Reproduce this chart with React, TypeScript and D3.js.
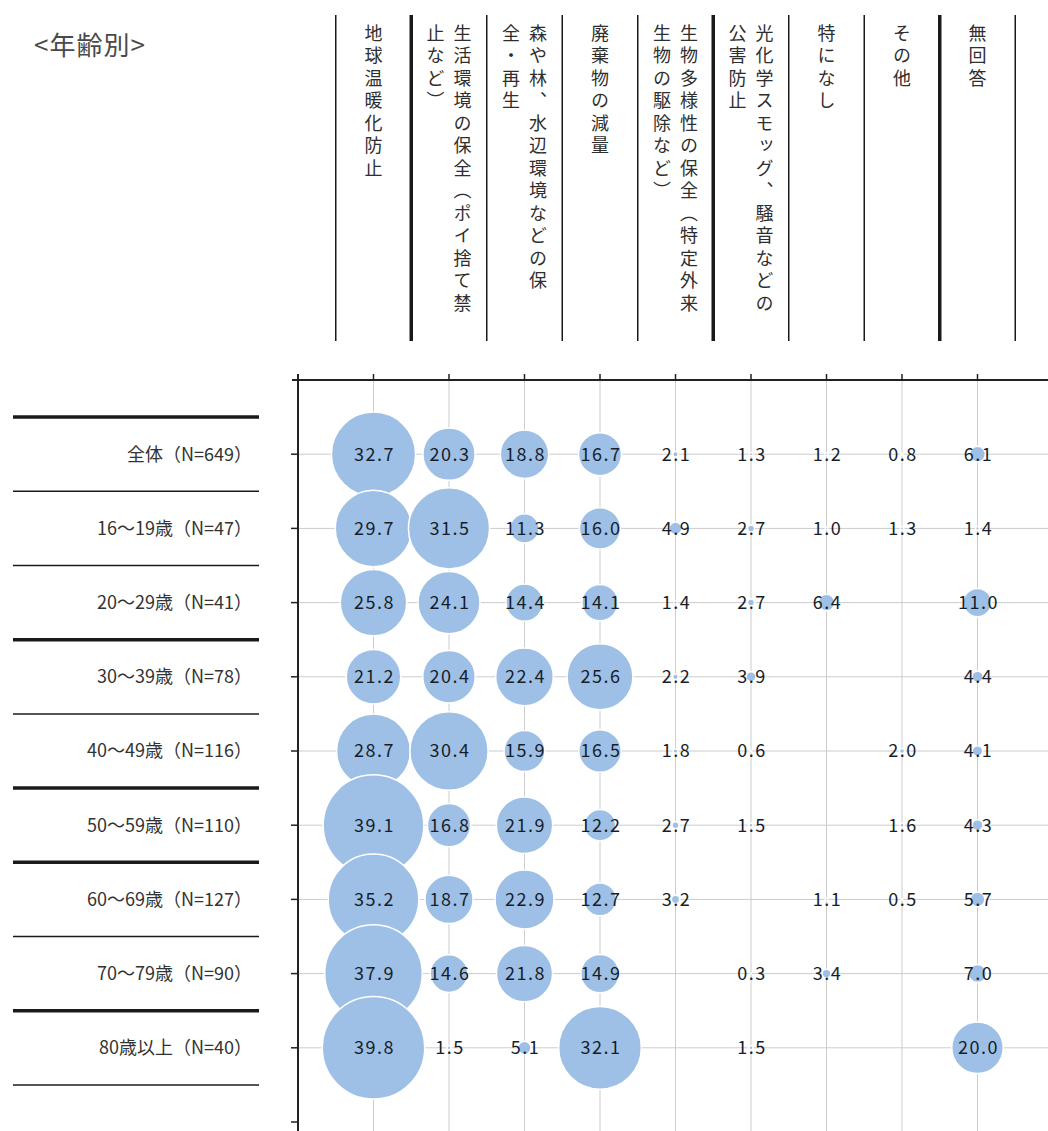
import * as d3 from "d3";
import { useEffect, useRef } from "react";

const WIDTH = 1048;
const HEIGHT = 1131;

// column headers, each split into the vertical lines of text (right-to-left order)
const columns = [
  ["地球温暖化防止"],
  ["生活環境の保全（ポイ捨て禁", "止など）"],
  ["森や林、水辺環境などの保", "全・再生"],
  ["廃棄物の減量"],
  ["生物多様性の保全（特定外来", "生物の駆除など）"],
  ["光化学スモッグ、騒音などの", "公害防止"],
  ["特になし"],
  ["その他"],
  ["無回答"],
];

const rows = [
  "全体（N=649）",
  "16～19歳（N=47）",
  "20～29歳（N=41）",
  "30～39歳（N=78）",
  "40～49歳（N=116）",
  "50～59歳（N=110）",
  "60～69歳（N=127）",
  "70～79歳（N=90）",
  "80歳以上（N=40）",
];

const values: (number | null)[][] = [
  [32.7, 20.3, 18.8, 16.7, 2.1, 1.3, 1.2, 0.8, 6.1],
  [29.7, 31.5, 11.3, 16.0, 4.9, 2.7, 1.0, 1.3, 1.4],
  [25.8, 24.1, 14.4, 14.1, 1.4, 2.7, 6.4, null, 11.0],
  [21.2, 20.4, 22.4, 25.6, 2.2, 3.9, null, null, 4.4],
  [28.7, 30.4, 15.9, 16.5, 1.8, 0.6, null, 2.0, 4.1],
  [39.1, 16.8, 21.9, 12.2, 2.7, 1.5, null, 1.6, 4.3],
  [35.2, 18.7, 22.9, 12.7, 3.2, null, 1.1, 0.5, 5.7],
  [37.9, 14.6, 21.8, 14.9, null, 0.3, 3.4, null, 7.0],
  [39.8, 1.5, 5.1, 32.1, null, 1.5, null, null, 20.0],
];

// which separator lines are drawn heavy
const headerThick = [false, true, false, false, false, true, false, false, true, false];
const rowThick = [true, false, false, true, false, true, true, false, true, false];

const FONT = "'Noto Sans CJK JP', 'Noto Sans', sans-serif";

export default function App() {
  const ref = useRef<SVGSVGElement>(null);

  useEffect(() => {
    const svg = d3.select(ref.current);
    svg.selectAll("*").remove();

    const x = d3
      .scalePoint<number>()
      .domain(d3.range(columns.length))
      .range([298, 1053])
      .padding(1);
    const y = d3
      .scalePoint<number>()
      .domain(d3.range(rows.length))
      .range([380, 1122])
      .padding(1);
    const r = d3.scaleLinear().domain([0, 40]).range([0, 51.5]);

    const stepX = x.step();
    const stepY = y.step();

    // title
    svg
      .append("text")
      .attr("x", 34)
      .attr("y", 55)
      .attr("font-size", 26)
      .attr("fill", "#4a4a4a")
      .attr("font-family", FONT)
      .style("letter-spacing", "1px")
      .text("<年齢別>");

    // header separators
    const hx = d3.range(columns.length + 1).map((i) =>
      i < columns.length ? x(i)! - stepX / 2 : x(columns.length - 1)! + stepX / 2
    );
    svg
      .append("g")
      .selectAll("line")
      .data(hx)
      .join("line")
      .attr("x1", (d) => d)
      .attr("x2", (d) => d)
      .attr("y1", 15)
      .attr("y2", 341)
      .attr("stroke", "#1a1a1a")
      .attr("stroke-width", (_, i) => (headerThick[i] ? 3.5 : 1.5));

    // header text, vertical
    const header = svg.append("g").attr("font-family", FONT).attr("font-size", 18).attr("fill", "#2e2e2e");
    columns.forEach((lines, ci) => {
      const cx = x(ci)!;
      const n = lines.length;
      lines.forEach((line, li) => {
        const lx = cx + ((n - 1) / 2 - li) * 27;
        header
          .append("text")
          .attr("x", lx)
          .attr("y", 24)
          .style("writing-mode", "vertical-rl")
          .style("letter-spacing", "4.5px")
          .text(line);
      });
    });

    // row separators on the left
    const ry = d3.range(rows.length + 1).map((i) =>
      i < rows.length ? y(i)! - stepY / 2 : y(rows.length - 1)! + stepY / 2
    );
    svg
      .append("g")
      .selectAll("line")
      .data(ry)
      .join("line")
      .attr("x1", 13)
      .attr("x2", 259)
      .attr("y1", (d) => d)
      .attr("y2", (d) => d)
      .attr("stroke", "#1a1a1a")
      .attr("stroke-width", (_, i) => (rowThick[i] ? 3.5 : 1.5));

    svg
      .append("g")
      .selectAll("text")
      .data(rows)
      .join("text")
      .attr("x", 252)
      .attr("y", (_, i) => y(i)!)
      .attr("dy", "0.35em")
      .attr("text-anchor", "end")
      .attr("font-family", FONT)
      .attr("font-size", 18)
      .attr("fill", "#333")
      .text((d) => d);

    // grid
    const [x0] = x.range();
    const [y0] = y.range();
    const grid = svg.append("g").attr("stroke", "#cccccc").attr("stroke-width", 1);
    grid
      .selectAll("line.v")
      .data(x.domain())
      .join("line")
      .attr("class", "v")
      .attr("x1", (d) => x(d)!)
      .attr("x2", (d) => x(d)!)
      .attr("y1", y0)
      .attr("y2", HEIGHT);
    grid
      .selectAll("line.h")
      .data(y.domain())
      .join("line")
      .attr("class", "h")
      .attr("x1", x0)
      .attr("x2", WIDTH)
      .attr("y1", (d) => y(d)!)
      .attr("y2", (d) => y(d)!);

    // axes
    const axis = svg.append("g").attr("stroke", "#222");
    axis.append("line").attr("x1", x0 - 6).attr("x2", WIDTH).attr("y1", y0).attr("y2", y0).attr("stroke-width", 2);
    axis.append("line").attr("x1", x0).attr("x2", x0).attr("y1", y0 - 6).attr("y2", HEIGHT).attr("stroke-width", 2);
    axis
      .selectAll("line.tx")
      .data(x.domain())
      .join("line")
      .attr("class", "tx")
      .attr("x1", (d) => x(d)!)
      .attr("x2", (d) => x(d)!)
      .attr("y1", y0 - 6)
      .attr("y2", y0)
      .attr("stroke-width", 1.5);
    axis
      .selectAll("line.ty")
      .data([...y.domain(), rows.length])
      .join("line")
      .attr("class", "ty")
      .attr("x1", x0 - 7)
      .attr("x2", x0)
      .attr("y1", (d) => (d < rows.length ? y(d)! : y(rows.length - 1)! + stepY))
      .attr("y2", (d) => (d < rows.length ? y(d)! : y(rows.length - 1)! + stepY))
      .attr("stroke-width", 1.5);

    // bubbles
    const cells = values.flatMap((row, ri) =>
      row.map((v, ci) => ({ ri, ci, v })).filter((c) => c.v !== null)
    ) as { ri: number; ci: number; v: number }[];

    svg
      .append("g")
      .selectAll("circle")
      .data(cells)
      .join("circle")
      .attr("cx", (d) => x(d.ci)!)
      .attr("cy", (d) => y(d.ri)!)
      .attr("r", (d) => r(d.v))
      .attr("fill", "#9fc0e6")
      .attr("stroke", "#ffffff")
      .attr("stroke-width", 1.5);

    svg
      .append("g")
      .selectAll("text")
      .data(cells)
      .join("text")
      .attr("x", (d) => x(d.ci)! + 1)
      .attr("y", (d) => y(d.ri)!)
      .attr("dy", "0.36em")
      .attr("text-anchor", "middle")
      .attr("font-family", FONT)
      .attr("font-size", 18)
      .attr("fill", "#161e2a")
      .style("letter-spacing", "1.5px")
      .text((d) => d.v.toFixed(1));
  }, []);

  return (
    <svg
      ref={ref}
      width={WIDTH}
      height={HEIGHT}
      style={{ position: "absolute", left: 0, top: 0, background: "#fff" }}
    />
  );
}
